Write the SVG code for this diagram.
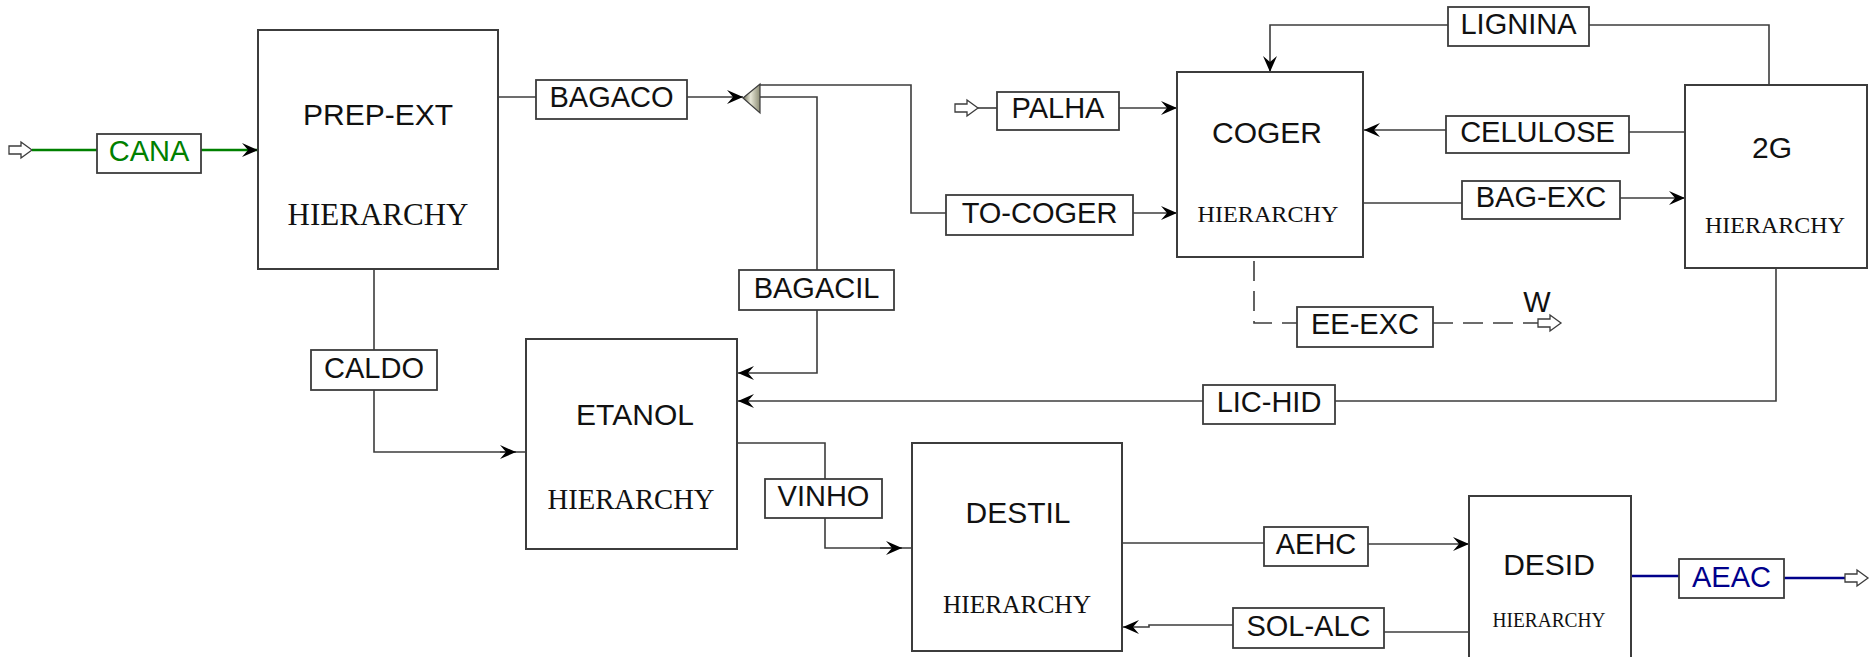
<svg xmlns="http://www.w3.org/2000/svg" width="1870" height="657" viewBox="0 0 1870 657">
<style>
.blk{fill:#fff;stroke:#3c3c3c;stroke-width:2}
.lbl{fill:#fff;stroke:#3c3c3c;stroke-width:1.8}
.ln{fill:none;stroke:#3c3c3c;stroke-width:1.6}
.dash{fill:none;stroke:#3c3c3c;stroke-width:1.6;stroke-dasharray:20 10}
.grn{fill:none;stroke:#008000;stroke-width:2.4}
.blu{fill:none;stroke:#00008b;stroke-width:2.4}
.t{font-family:"Liberation Sans",Arial,sans-serif;font-size:29px;fill:#111;text-anchor:middle}
.n{font-family:"Liberation Sans",Arial,sans-serif;font-size:30px;fill:#111;text-anchor:middle}
.h{font-family:"Liberation Serif","Times New Roman",serif;fill:#111;text-anchor:middle}
.oa{fill:#fff;stroke:#3c3c3c;stroke-width:1.3}
</style>
<defs>
<marker id="ah" viewBox="-17 -8 18 16" refX="0" refY="0" markerWidth="18" markerHeight="16" markerUnits="userSpaceOnUse" orient="auto">
<path d="M0,0 L-16,-7 L-10,0 L-16,7 Z" fill="#000"/>
</marker>
<path id="open" d="M0,-4 L12,-4 L12,-8 L23,0 L12,8 L12,4 L0,4 Z"/>
<linearGradient id="mixg" x1="0" y1="0" x2="1" y2="0">
<stop offset="0" stop-color="#6e6e58"/>
<stop offset="0.45" stop-color="#e6e6d6"/>
<stop offset="1" stop-color="#8c8c74"/>
</linearGradient>
</defs>

<g id="connectors">
<!-- CANA -->
<use href="#open" x="9" y="150" class="oa"/>
<path class="grn" d="M32,150 H97"/>
<path class="grn" d="M201,150 H258" marker-end="url(#ah)"/>
<!-- BAGACO -->
<path class="ln" d="M498,97 H536"/>
<path class="ln" d="M687,97 H743" marker-end="url(#ah)"/>
<!-- TO-COGER -->
<path class="ln" d="M760,85 H911 V213 H946"/>
<path class="ln" d="M1133,213 H1177" marker-end="url(#ah)"/>
<!-- BAGACIL -->
<path class="ln" d="M760,97 H817 V270"/>
<path class="ln" d="M817,310 V373 H738" marker-end="url(#ah)"/>
<!-- PALHA -->
<use href="#open" x="955" y="108" class="oa"/>
<path class="ln" d="M978,108 H997"/>
<path class="ln" d="M1119,108 H1177" marker-end="url(#ah)"/>
<!-- LIGNINA -->
<path class="ln" d="M1769,85 V25 H1589"/>
<path class="ln" d="M1448,25 H1270 V72" marker-end="url(#ah)"/>
<!-- CELULOSE -->
<path class="ln" d="M1685,132 H1629"/>
<path class="ln" d="M1446,130 H1364" marker-end="url(#ah)"/>
<!-- BAG-EXC -->
<path class="ln" d="M1363,203 H1462"/>
<path class="ln" d="M1620,198 H1685" marker-end="url(#ah)"/>
<!-- EE-EXC -->
<path class="dash" d="M1254,261 V323 H1297"/>
<path class="dash" d="M1433,323 H1538"/>
<use href="#open" x="1538" y="323" class="oa"/>
<!-- LIC-HID -->
<path class="ln" d="M1776,268 V401 H1335"/>
<path class="ln" d="M1203,401 H738" marker-end="url(#ah)"/>
<!-- CALDO -->
<path class="ln" d="M374,270 V350"/>
<path class="ln" d="M374,390 V452 H526"/>
<path class="ln" d="M500,452 H516" marker-end="url(#ah)"/>
<!-- VINHO -->
<path class="ln" d="M737,443 H825 V479"/>
<path class="ln" d="M825,518 V548 H912"/>
<path class="ln" d="M880,548 H902" marker-end="url(#ah)"/>
<!-- AEHC -->
<path class="ln" d="M1122,543 H1264"/>
<path class="ln" d="M1368,544 H1469" marker-end="url(#ah)"/>
<!-- SOL-ALC -->
<path class="ln" d="M1469,632 H1384"/>
<path class="ln" d="M1233,625 H1149 V627 H1123" marker-end="url(#ah)"/>
<!-- AEAC -->
<path class="blu" d="M1631,576 H1679"/>
<path class="blu" d="M1784,578 H1845"/>
<use href="#open" x="1845" y="578" class="oa"/>
</g>

<g id="mixer">
<path d="M743,98 L760,84 L760,113 Z" fill="url(#mixg)" stroke="#3c3c3c" stroke-width="1.2"/>
</g>

<g id="PREP-EXT">
<rect class="blk" x="258" y="30" width="240" height="239"/>
<text class="n" x="378" y="125">PREP-EXT</text>
<text class="h" x="378" y="225" font-size="31">HIERARCHY</text>
</g>
<g id="COGER">
<rect class="blk" x="1177" y="72" width="186" height="185"/>
<text class="n" x="1267" y="143">COGER</text>
<text class="h" x="1268" y="222" font-size="24" textLength="141" lengthAdjust="spacingAndGlyphs">HIERARCHY</text>
</g>
<g id="2G">
<rect class="blk" x="1685" y="85" width="182" height="183"/>
<text class="n" x="1772" y="158">2G</text>
<text class="h" x="1775" y="233" font-size="24" textLength="140" lengthAdjust="spacingAndGlyphs">HIERARCHY</text>
</g>
<g id="ETANOL">
<rect class="blk" x="526" y="339" width="211" height="210"/>
<text class="n" x="635" y="425">ETANOL</text>
<text class="h" x="631" y="509" font-size="29" textLength="167" lengthAdjust="spacingAndGlyphs">HIERARCHY</text>
</g>
<g id="DESTIL">
<rect class="blk" x="912" y="443" width="210" height="208"/>
<text class="n" x="1018" y="523">DESTIL</text>
<text class="h" x="1017" y="613" font-size="25" textLength="148" lengthAdjust="spacingAndGlyphs">HIERARCHY</text>
</g>
<g id="DESID">
<rect class="blk" x="1469" y="496" width="162" height="170"/>
<text class="n" x="1549" y="575">DESID</text>
<text class="h" x="1549" y="627" font-size="20" textLength="113" lengthAdjust="spacingAndGlyphs">HIERARCHY</text>
</g>

<g id="labels">
<g id="L-CANA"><rect class="lbl" x="97" y="134" width="104" height="39"/><text class="t" x="149" y="161" fill="#008000" style="fill:#008000">CANA</text></g>
<g id="L-BAGACO"><rect class="lbl" x="536" y="80" width="151" height="39"/><text class="t" x="611.5" y="107">BAGACO</text></g>
<g id="L-PALHA"><rect class="lbl" x="997" y="92" width="122" height="38"/><text class="t" x="1058" y="118">PALHA</text></g>
<g id="L-TO-COGER"><rect class="lbl" x="946" y="195" width="187" height="40"/><text class="t" x="1039.5" y="223">TO-COGER</text></g>
<g id="L-BAGACIL"><rect class="lbl" x="739" y="270" width="155" height="40"/><text class="t" x="816.5" y="298">BAGACIL</text></g>
<g id="L-CALDO"><rect class="lbl" x="311" y="350" width="126" height="40"/><text class="t" x="374" y="378">CALDO</text></g>
<g id="L-LIGNINA"><rect class="lbl" x="1448" y="7" width="141" height="39"/><text class="t" x="1518.5" y="34">LIGNINA</text></g>
<g id="L-CELULOSE"><rect class="lbl" x="1446" y="116" width="183" height="37"/><text class="t" x="1537.5" y="142">CELULOSE</text></g>
<g id="L-BAG-EXC"><rect class="lbl" x="1462" y="181" width="158" height="38"/><text class="t" x="1541" y="207">BAG-EXC</text></g>
<g id="L-EE-EXC"><rect class="lbl" x="1297" y="307" width="136" height="40"/><text class="t" x="1365" y="334">EE-EXC</text></g>
<g id="L-LIC-HID"><rect class="lbl" x="1203" y="385" width="132" height="39"/><text class="t" x="1269" y="412">LIC-HID</text></g>
<g id="L-VINHO"><rect class="lbl" x="765" y="479" width="117" height="39"/><text class="t" x="823.5" y="506">VINHO</text></g>
<g id="L-AEHC"><rect class="lbl" x="1264" y="527" width="104" height="39"/><text class="t" x="1316" y="554">AEHC</text></g>
<g id="L-SOL-ALC"><rect class="lbl" x="1233" y="608" width="151" height="40"/><text class="t" x="1308.5" y="636">SOL-ALC</text></g>
<g id="L-AEAC"><rect class="lbl" x="1679" y="559" width="105" height="39"/><text class="t" x="1731.5" y="587" style="fill:#00008b">AEAC</text></g>
<text class="t" x="1537" y="312" font-size="28">W</text>
</g>
</svg>
